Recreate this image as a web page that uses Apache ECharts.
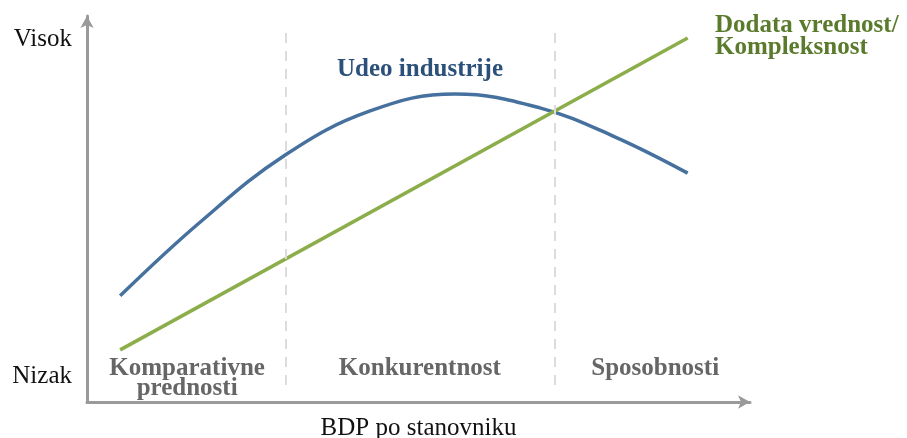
<!DOCTYPE html>
<html>
<head>
<meta charset="utf-8">
<script src="https://cdn.jsdelivr.net/npm/echarts@6/dist/echarts.min.js"></script>
<style>
  html, body { margin: 0; padding: 0; background: #fff; }
  #chart { width: 907px; height: 438px; }
</style>
</head>
<body>
<div id="chart"></div>
<script>
// BDP po stanovniku (0-100, relativno)
var udeoX = [5, 17, 29.9, 42.7, 55.5, 68.3, 79.6, 90.6];
var udeoY = [27.5, 46.5, 64, 75.4, 79.8, 76.2, 68.7, 59.3];
var dodataX = [5, 90.6];
var dodataY = [13.5, 94.3];
var faze = ['Komparativne\nprednosti', 'Konkurentnost', 'Sposobnosti'];
var fazeX = [15.1, 50.2, 85.7];
var granice = [30, 70.6];
var nivoi = ['Nizak', 'Visok'];
var nivoiY = [6.5, 93.8];

var serif = '"Liberation Serif", "DejaVu Serif", serif';

function pairs(xs, ys) {
	var out = [];
	for (var i = 0; i < xs.length; i++) {
		out.push([xs[i], ys[i]]);
	}
	return out;
}

var markData = [];
for (var i = 0; i < granice.length; i++) {
	markData.push([{coord: [granice[i], 4.4]}, {coord: [granice[i], 96.4]}]);
}

var chart = echarts.init(document.getElementById('chart'));
var option = {
	backgroundColor: '#fff',
	animation: false,
	title: [
		{
			text: 'Udeo industrije',
			left: 332, top: 52,
			textStyle: {fontFamily: serif, fontSize: 25, fontWeight: 'bold', color: '#2b5079'}
		},
		{
			text: 'Dodata vrednost/\nKompleksnost',
			left: 710, top: 10,
			textStyle: {fontFamily: serif, fontSize: 25, fontWeight: 'bold', color: '#5a7a2c', lineHeight: 22}
		}
	],
	grid: {left: 87, right: 157, top: 16, bottom: 36, outerBoundsMode: 'none'},
	xAxis: {
		type: 'value', min: 0, max: 100,
		name: 'BDP po stanovniku',
		nameLocation: 'middle', nameGap: 14,
		nameTextStyle: {fontFamily: serif, fontSize: 25, color: '#111'},
		axisLine: {lineStyle: {color: '#9a9a9a', width: 3}, symbol: ['none', 'arrow'], symbolSize: [10, 12]},
		axisTick: {show: false},
		splitLine: {show: false},
		axisLabel: {
			inside: true, margin: 3,
			customValues: fazeX,
			formatter: function (v) {
				var k = fazeX.indexOf(v);
				return k === 0 ? faze[k] : faze[k] + '\n ';
			},
			fontFamily: serif, fontSize: 25, fontWeight: 'bold', color: '#666', lineHeight: 20
		}
	},
	yAxis: {
		type: 'value', min: 0, max: 100,
		axisLine: {lineStyle: {color: '#9a9a9a', width: 3}, symbol: ['none', 'arrow'], symbolSize: [10, 12]},
		axisTick: {show: false},
		splitLine: {show: false},
		axisLabel: {
			margin: 15,
			customValues: nivoiY,
			formatter: function (v) { return nivoi[nivoiY.indexOf(v)]; },
			fontFamily: serif, fontSize: 25, color: '#111'
		}
	},
	series: [
		{
			name: 'Dodata vrednost/Kompleksnost',
			type: 'line',
			data: pairs(dodataX, dodataY),
			symbol: 'none',
			lineStyle: {color: '#8bae4a', width: 3.5},
			markLine: {
				silent: true,
				symbol: 'none',
				label: {show: false},
				lineStyle: {color: '#dcdcdc', width: 2, type: [10, 8]},
				data: markData
			},
			z: 3
		},
		{
			name: 'Udeo industrije',
			type: 'line',
			data: pairs(udeoX, udeoY),
			smooth: 0.4,
			symbol: 'none',
			lineStyle: {color: '#46719e', width: 3.5},
			z: 2
		}
	]
};
chart.setOption(option);
</script>
</body>
</html>
